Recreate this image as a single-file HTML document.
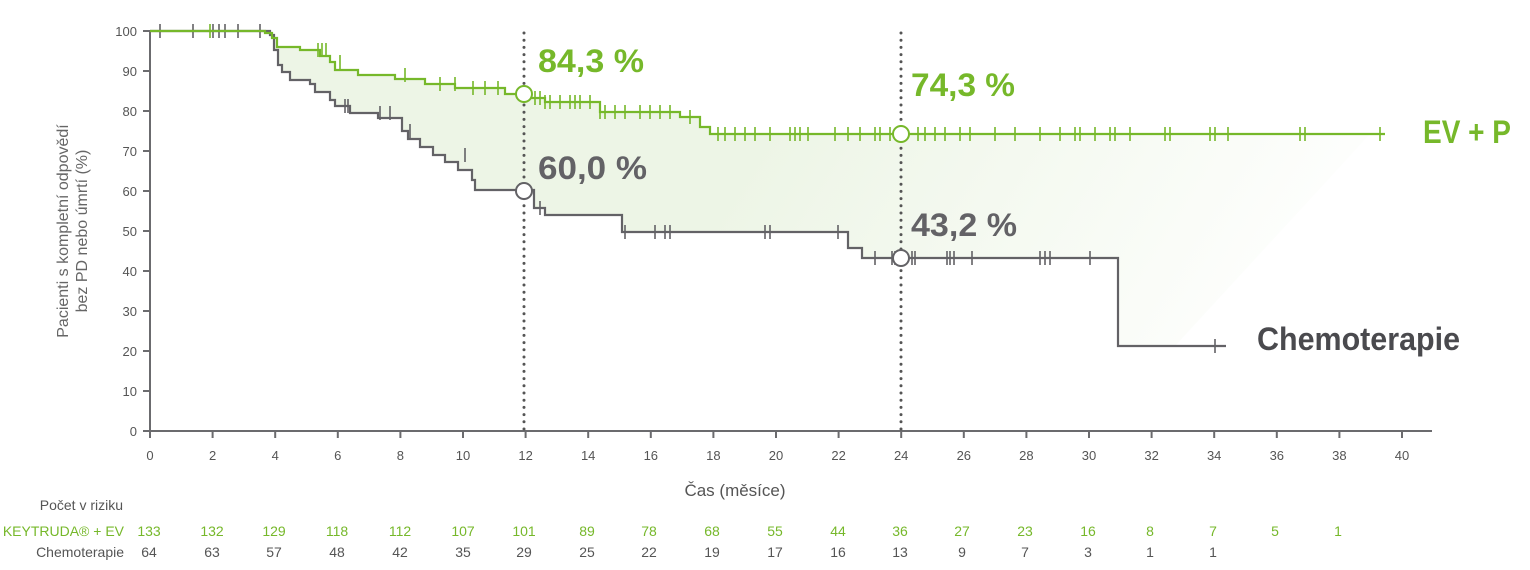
<!DOCTYPE html>
<html><head><meta charset="utf-8"><style>
body{margin:0;background:#fff;}
svg{display:block;font-family:"Liberation Sans",sans-serif;}
</style></head><body>
<svg width="1530" height="570" viewBox="0 0 1530 570" xmlns="http://www.w3.org/2000/svg">
<defs>
<linearGradient id="g" x1="850" y1="0" x2="1330" y2="300" gradientUnits="userSpaceOnUse">
<stop offset="0" stop-color="#edf5e6"/><stop offset="1" stop-color="#edf5e6" stop-opacity="0"/>
</linearGradient>
</defs>
<path fill="url(#g)" d="M265,31 V33 H272 V38 H277 V47 H300 V50 H320 V56 H330 V62 H335 V70 H358 V75 H395 V79 H425 V84 H455 V88 H505 V94 H530 V98 H545 V102 H600 V112 H680 V117 H700 V127 H710 V134 H1370 L1175,346 H1118 V258 H862 V248 H848 V232 H622 V215 H545 V208 H534 V190 H475 V180 H472 V170 H458 V162 H445 V155 H433 V147 H420 V139 H408 V131 H402 V118 H378 V113 H350 V106 H335 V100 H330 V92 H315 V84 H310 V80 H290 V72 H282 V65 H278 V50 H274 V35 H270 Z"/>
<g stroke="#6b6b6e" stroke-width="2" fill="none">
<path d="M150,31 V432 M149,431 H1432"/>
<path d="M143,31H150M143,71H150M143,111H150M143,151H150M143,191H150M143,231H150M143,271H150M143,311H150M143,351H150M143,391H150M143,431H150"/>
<path d="M150,431v7M212.6,431v7M275.2,431v7M337.8,431v7M400.4,431v7M463,431v7M525.6,431v7M588.2,431v7M650.8,431v7M713.4,431v7M776,431v7M838.6,431v7M901.2,431v7M963.8,431v7M1026.4,431v7M1089,431v7M1151.6,431v7M1214.2,431v7M1276.8,431v7M1339.4,431v7M1402,431v7"/>
</g>
<g font-size="13" fill="#555" text-anchor="end">
<text x="137" y="36">100</text><text x="137" y="76">90</text><text x="137" y="116">80</text><text x="137" y="156">70</text><text x="137" y="196">60</text><text x="137" y="236">50</text><text x="137" y="276">40</text><text x="137" y="316">30</text><text x="137" y="356">20</text><text x="137" y="396">10</text><text x="137" y="436">0</text>
</g>
<g font-size="13" fill="#555" text-anchor="middle">
<text x="150" y="460">0</text><text x="212.6" y="460">2</text><text x="275.2" y="460">4</text><text x="337.8" y="460">6</text><text x="400.4" y="460">8</text><text x="463" y="460">10</text><text x="525.6" y="460">12</text><text x="588.2" y="460">14</text><text x="650.8" y="460">16</text><text x="713.4" y="460">18</text><text x="776" y="460">20</text><text x="838.6" y="460">22</text><text x="901.2" y="460">24</text><text x="963.8" y="460">26</text><text x="1026.4" y="460">28</text><text x="1089" y="460">30</text><text x="1151.6" y="460">32</text><text x="1214.2" y="460">34</text><text x="1276.8" y="460">36</text><text x="1339.4" y="460">38</text><text x="1402" y="460">40</text>
</g>
<text x="735" y="496" font-size="17" fill="#555" text-anchor="middle">Čas (měsíce)</text>
<g font-size="16" fill="#666" text-anchor="middle">
<text transform="translate(68,231) rotate(-90)">Pacienti s kompletní odpovědí</text>
<text transform="translate(87,231) rotate(-90)">bez PD nebo úmrtí (%)</text>
</g>
<g stroke="#555" stroke-width="3" stroke-linecap="round" stroke-dasharray="0 7.2">
<path d="M524,33 V431 M901,33 V431"/>
</g>
<path fill="none" stroke="#636266" stroke-width="2.2" d="M150,31 H270 V35 H274 V50 H278 V65 H282 V72 H290 V80 H310 V84 H315 V92 H330 V100 H335 V106 H350 V113 H378 V118 H402 V131 H408 V139 H420 V147 H433 V155 H445 V162 H458 V170 H472 V180 H475 V190 H534 V208 H545 V215 H622 V232 H848 V248 H862 V258 H1118 V346 H1226"/>
<g stroke="#636266" stroke-width="1.6" fill="none">
<path d="M160,24v14M193,24v14M213,24v14M219,24v14M225,24v14M238,24v14M260,24v14M345,99v14M348,99v14M380,106v14M390,106v14M410,124v14M465,148v14M520,183v14M540,201v14M625,225v14M655,225v14M665,225v14M670,225v14M765,225v14M770,225v14M838,225v14M875,251v14M892,251v14M895,251v14M912,251v14M915,251v14M947,251v14M950,251v14M954,251v14M972,251v14M1040,251v14M1045,251v14M1050,251v14M1090,251v14M1215,339v14"/>
</g>
<path fill="none" stroke="#76b82a" stroke-width="2.2" d="M150,31 H265 V33 H272 V38 H277 V47 H300 V50 H320 V56 H330 V62 H335 V70 H358 V75 H395 V79 H425 V84 H455 V88 H505 V94 H530 V98 H545 V102 H600 V112 H680 V117 H700 V127 H710 V134 H1385"/>
<g stroke="#76b82a" stroke-width="1.6" fill="none">
<path d="M210,24v14M318,43v14M322,43v14M326,43v14M340,55v14M405,68v14M440,77v14M455,77v14M473,81v14M485,81v14M498,81v14M535,91v14M540,91v14M545,95v14M550,95v14M560,95v14M570,95v14M575,95v14M580,95v14M590,95v14M600,105v14M605,105v14M615,105v14M625,105v14M640,105v14M650,105v14M660,105v14M670,105v14M690,110v14M718,127v14M725,127v14M735,127v14M745,127v14M755,127v14M770,127v14M790,127v14M795,127v14M800,127v14M808,127v14M835,127v14M848,127v14M860,127v14M875,127v14M880,127v14M890,127v14M918,127v14M925,127v14M935,127v14M945,127v14M960,127v14M970,127v14M995,127v14M1015,127v14M1040,127v14M1060,127v14M1075,127v14M1080,127v14M1095,127v14M1110,127v14M1115,127v14M1130,127v14M1165,127v14M1170,127v14M1210,127v14M1215,127v14M1228,127v14M1300,127v14M1305,127v14M1380,127v14"/>
</g>
<circle cx="524" cy="94" r="8" fill="#fff" stroke="#76b82a" stroke-width="2"/>
<circle cx="901" cy="134" r="8" fill="#fff" stroke="#76b82a" stroke-width="2"/>
<circle cx="524" cy="191" r="8" fill="#fff" stroke="#636266" stroke-width="2"/>
<circle cx="901" cy="258" r="8" fill="#fff" stroke="#636266" stroke-width="2"/>
<g font-weight="bold" font-size="32">
<text x="538" y="72" fill="#76b82a" textLength="106" lengthAdjust="spacingAndGlyphs">84,3 %</text>
<text x="911" y="96" fill="#76b82a" textLength="104" lengthAdjust="spacingAndGlyphs">74,3 %</text>
<text x="538" y="179" fill="#636266" textLength="109" lengthAdjust="spacingAndGlyphs">60,0 %</text>
<text x="911" y="236" fill="#636266" textLength="106" lengthAdjust="spacingAndGlyphs">43,2 %</text>
<text x="1423" y="143" fill="#76b82a" textLength="88" lengthAdjust="spacingAndGlyphs">EV + P</text>
<text x="1257" y="350" fill="#4a4a4e" textLength="203" lengthAdjust="spacingAndGlyphs">Chemoterapie</text>
</g>
<g font-size="14" text-anchor="end" fill="#555">
<text x="123" y="510">Počet v riziku</text>
<text x="124" y="536" fill="#76b82a">KEYTRUDA® + EV</text>
<text x="124" y="557">Chemoterapie</text>
</g>
<g font-size="14" text-anchor="middle" fill="#76b82a">
<text x="149" y="536">133</text><text x="212" y="536">132</text><text x="274" y="536">129</text><text x="337" y="536">118</text><text x="400" y="536">112</text><text x="463" y="536">107</text><text x="524" y="536">101</text><text x="587" y="536">89</text><text x="649" y="536">78</text><text x="712" y="536">68</text><text x="775" y="536">55</text><text x="838" y="536">44</text><text x="900" y="536">36</text><text x="962" y="536">27</text><text x="1025" y="536">23</text><text x="1088" y="536">16</text><text x="1150" y="536">8</text><text x="1213" y="536">7</text><text x="1275" y="536">5</text><text x="1338" y="536">1</text>
</g>
<g font-size="14" text-anchor="middle" fill="#555">
<text x="149" y="557">64</text><text x="212" y="557">63</text><text x="274" y="557">57</text><text x="337" y="557">48</text><text x="400" y="557">42</text><text x="463" y="557">35</text><text x="524" y="557">29</text><text x="587" y="557">25</text><text x="649" y="557">22</text><text x="712" y="557">19</text><text x="775" y="557">17</text><text x="838" y="557">16</text><text x="900" y="557">13</text><text x="962" y="557">9</text><text x="1025" y="557">7</text><text x="1088" y="557">3</text><text x="1150" y="557">1</text><text x="1213" y="557">1</text>
</g>
</svg>
</body></html>
